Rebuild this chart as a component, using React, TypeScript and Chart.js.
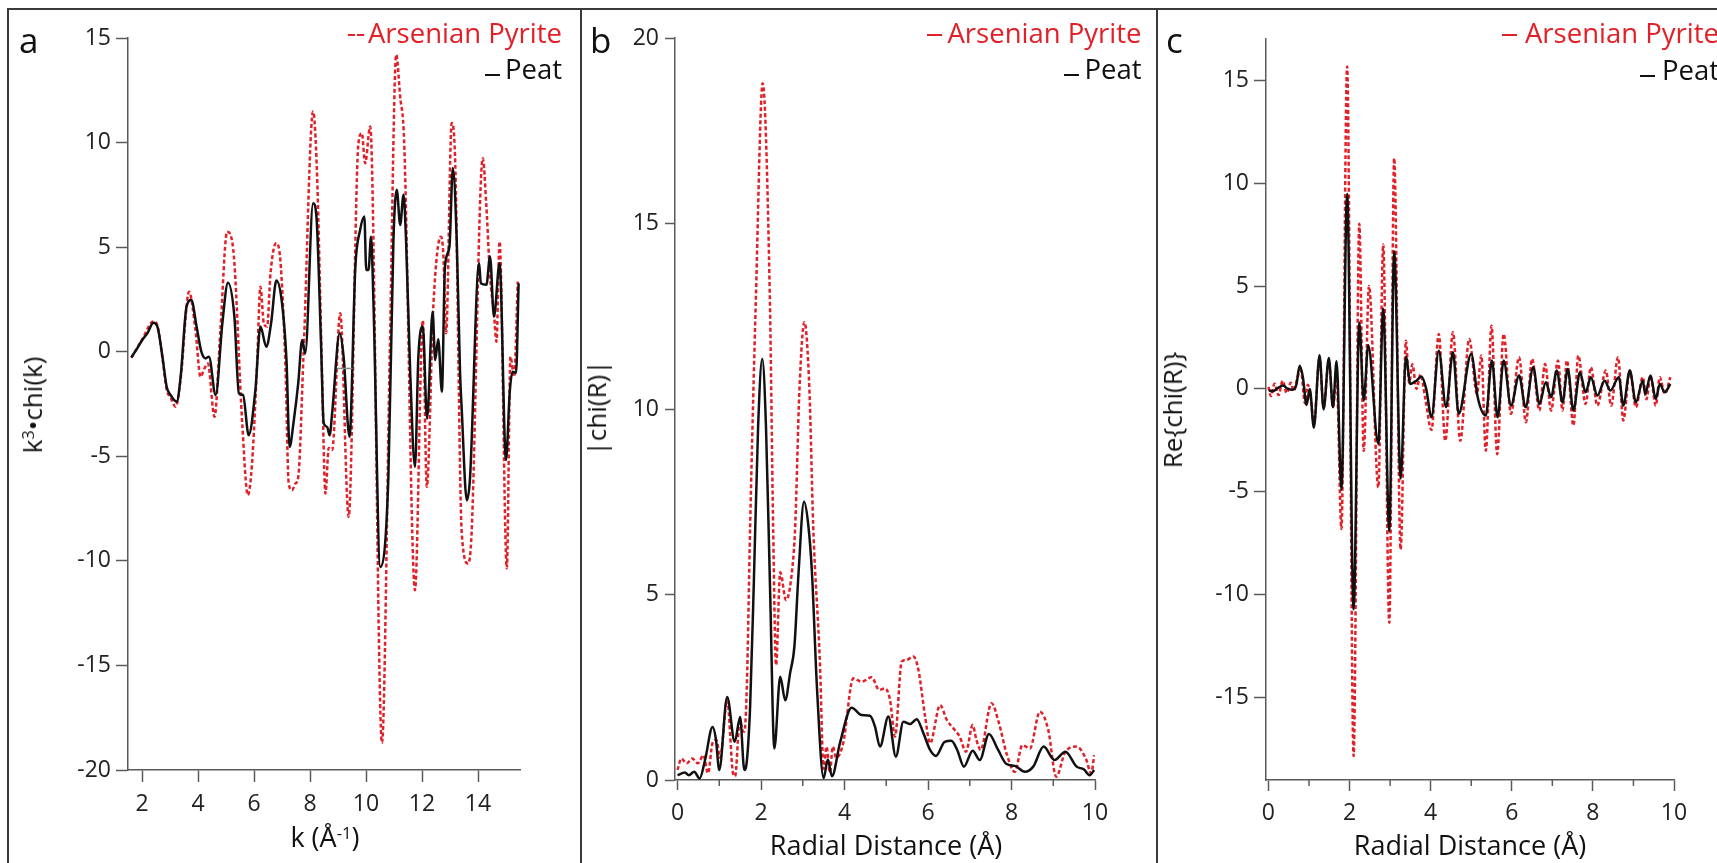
import React, { useEffect, useRef } from "react";
import { Chart, registerables } from "chart.js";

Chart.register(...registerables);

type Pt = [number, number];

// ---------- Panel a : k^3·chi(k) vs k ----------
const kTicks = [2, 4, 6, 8, 10, 12, 14];
const chiKTicks = [-20, -15, -10, -5, 0, 5, 10, 15];
const chiK_Peat: Pt[] = [
  [1.62, -0.27], [1.8, 0.1], [2.01, 0.56], [2.19, 0.88], [2.41, 1.39], [2.55, 1.2], [2.73, -0.24], [2.88, -1.67],
  [3.02, -2.07], [3.24, -2.39], [3.38, -1.2], [3.59, 2.15], [3.76, 2.47], [3.95, 1.2], [4.12, 0], [4.27, -0.32],
  [4.39, -0.24], [4.63, -2.07], [4.87, 1.36], [5.07, 3.3], [5.3, 1.67], [5.46, -1.99], [5.61, -2.07], [5.81, -3.99],
  [6.05, -1.83], [6.23, 1.2], [6.44, 0.24], [6.61, 1.36], [6.8, 3.4], [7.0, 2.32], [7.16, -0.4], [7.27, -4.55],
  [7.42, -3.3], [7.58, -1.5], [7.72, 0.56], [7.83, -0.08], [8.11, 7.1], [8.23, 6.46], [8.39, 0.56], [8.49, -3.43],
  [8.61, -3.59], [8.7, -4.0], [8.79, -2.95], [9.06, 0.88], [9.2, -0.24], [9.41, -4.07], [9.62, 4.07], [9.79, 5.82],
  [9.94, 6.46], [10.01, 3.91], [10.09, 3.91], [10.18, 5.5], [10.27, 2.15], [10.51, -10.29], [10.8, -5.98],
  [10.98, 5.34], [11.1, 7.74], [11.22, 6.06], [11.34, 7.5], [11.43, 5.34], [11.58, -1.04], [11.75, -5.5],
  [11.87, -0.24], [12.03, 1.2], [12.18, -3.2], [12.38, 1.91], [12.47, -0.4], [12.58, 0.6], [12.71, -1.91],
  [12.82, 4.07], [12.98, 5.02], [13.1, 8.78], [13.24, 5.34], [13.36, -1.04], [13.42, -2.79], [13.6, -7.1],
  [13.71, -6.14], [14.04, 4.23], [14.1, 3.27], [14.3, 3.2], [14.43, 4.55], [14.57, 1.68], [14.77, 4.23],
  [15.0, -5.18], [15.13, -2.0], [15.23, -0.96], [15.36, -1.0], [15.45, 3.27],
];
const chiK_ArsenianPyrite: Pt[] = [
  [1.62, -0.3], [2.01, 0.6], [2.41, 1.45], [2.55, 1.25], [2.73, -0.3], [2.88, -1.8], [3.02, -2.2], [3.2, -2.63],
  [3.38, -1.3], [3.68, 2.87], [3.91, 1.04], [4.09, -1.2], [4.23, -0.8], [4.35, -0.56], [4.59, -3.11], [4.8, 1.04],
  [5.04, 5.74], [5.26, 4.87], [5.58, -3.43], [5.78, -6.86], [5.93, -5.34], [6.11, -0.56], [6.23, 3.11],
  [6.35, 1.36], [6.47, 1.2], [6.59, 3.75], [6.79, 5.19], [6.94, 4.39], [7.12, -0.56], [7.24, -6.3], [7.36, -6.62],
  [7.48, -6.3], [7.58, -6.0], [7.77, -0.08], [8.11, 11.48], [8.25, 8.54], [8.43, -1.04], [8.55, -6.78],
  [8.67, -4.6], [8.79, -4.7], [9.08, 1.84], [9.38, -7.89], [9.73, 9.97], [9.85, 10.45], [9.97, 9.01],
  [10.15, 10.77], [10.57, -18.7], [10.85, 0], [11.08, 14.2], [11.22, 12.2], [11.36, 10.13], [11.75, -11.4],
  [12.03, 1.5], [12.17, -6.46], [12.41, 2.32], [12.67, 5.5], [12.76, 4.71], [12.86, 0.88], [13.06, 10.93],
  [13.18, 9.33], [13.42, -8.69], [13.65, -10.13], [13.77, -8.7], [14.17, 9.25], [14.3, 6.94], [14.43, 3.6],
  [14.57, 1.84], [14.66, 0.48], [14.77, 5.27], [15.03, -10.35], [15.16, -0.24], [15.29, -1.2], [15.42, 3.35],
];
const chiK_marker: Pt[] = [[8.96, -0.8], [9.52, -0.8]];

// ---------- Panel b : |chi(R)| ----------
const rTicks = [0, 2, 4, 6, 8, 10];
const rMinorTicks = [1, 3, 5, 7, 9];
const magTicks = [0, 5, 10, 15, 20];
const chiRmag_Peat: Pt[] = [
  [0, 0.13], [0.18, 0.2], [0.27, 0.13], [0.4, 0.22], [0.53, 0.04], [0.66, 0.54], [0.84, 1.43], [0.92, 1.1],
  [1.0, 0.27], [1.19, 2.24], [1.37, 1.03], [1.5, 1.7], [1.6, 0.27], [1.66, 0.5], [1.74, 2.0], [1.83, 5.4],
  [1.93, 9.5], [2.03, 11.35], [2.12, 9.5], [2.22, 5.0], [2.32, 0.85], [2.46, 2.78], [2.58, 2.15], [2.7, 2.9],
  [2.8, 3.6], [2.9, 5.6], [3.03, 7.5], [3.13, 6.9], [3.22, 5.6], [3.34, 2.5], [3.5, 0.05], [3.6, 0.55],
  [3.7, 0.1], [3.89, 0.99], [4.17, 1.95], [4.41, 1.75], [4.61, 1.73], [4.73, 1.44], [4.85, 0.9], [5.05, 1.71],
  [5.23, 0.63], [5.41, 1.57], [5.57, 1.51], [5.73, 1.64], [5.89, 1.26], [6.05, 0.81], [6.19, 0.65], [6.4, 1.03],
  [6.56, 1.06], [6.7, 0.81], [6.86, 0.36], [7.07, 0.79], [7.24, 0.54], [7.46, 1.24], [7.68, 0.81], [7.88, 0.43],
  [8.08, 0.38], [8.32, 0.22], [8.52, 0.36], [8.77, 0.9], [9.03, 0.54], [9.29, 0.76], [9.56, 0.36], [9.73, 0.29],
  [9.87, 0.13], [9.98, 0.27],
];
const chiRmag_ArsenianPyrite: Pt[] = [
  [0, 0.27], [0.09, 0.58], [0.22, 0.45], [0.35, 0.58], [0.49, 0.45], [0.62, 0.67], [0.73, 0.18], [0.84, 1.0],
  [0.93, 1.08], [1.02, 0.6], [1.19, 2.15], [1.33, 0.18], [1.38, 0.1], [1.49, 1.6], [1.56, 1.34], [1.6, 1.3],
  [1.66, 2.5], [1.74, 6.86], [1.88, 13.1], [2.04, 18.78], [2.21, 13.1], [2.29, 6.86], [2.36, 3.1], [2.46, 5.6],
  [2.6, 4.85], [2.74, 5.6], [2.82, 6.86], [2.92, 10.5], [3.04, 12.34], [3.16, 10.5], [3.25, 6.86], [3.41, 3.2],
  [3.5, 0.3], [3.57, 0.9], [3.65, 0.2], [3.72, 0.9], [3.8, 0.6], [3.97, 1.0], [4.21, 2.74], [4.41, 2.65],
  [4.65, 2.77], [4.83, 2.43], [4.97, 2.47], [5.09, 2.16], [5.21, 1.17], [5.37, 3.19], [5.49, 3.24], [5.65, 3.33],
  [5.77, 2.97], [5.93, 1.71], [6.05, 0.99], [6.29, 2.02], [6.45, 1.62], [6.64, 1.35], [6.76, 1.17], [6.91, 0.76],
  [7.07, 1.48], [7.16, 1.08], [7.26, 0.81], [7.52, 2.07], [7.7, 1.53], [7.88, 0.72], [8.08, 0.22], [8.26, 0.94],
  [8.44, 0.85], [8.68, 1.84], [8.88, 1.35], [9.07, 0.09], [9.29, 0.76], [9.56, 0.9], [9.78, 0.58], [9.91, 0.18],
  [9.98, 0.67],
];

// ---------- Panel c : Re{chi(R)} ----------
const reTicks = [-15, -10, -5, 0, 5, 10, 15];
const chiRre_Peat: Pt[] = [
  [0.01, -0.07], [0.11, -0.11], [0.23, 0.04], [0.36, 0.16], [0.48, 0], [0.6, -0.04], [0.69, 0.22], [0.77, 1.12],
  [0.85, 0.56], [0.94, -0.78], [1.02, 0], [1.12, -1.89], [1.26, 1.63], [1.36, -1.0], [1.49, 1.5], [1.59, -0.89],
  [1.68, 1.34], [1.8, -4.9], [1.94, 9.47], [2.1, -10.7], [2.24, 3.23], [2.35, -0.56], [2.46, 2.12], [2.71, -2.67],
  [2.83, 3.9], [2.98, -6.91], [3.1, 6.69], [3.26, -4.35], [3.39, 1.56], [3.5, 0.24], [3.65, 0.4], [3.77, 0.6],
  [3.89, 0.0], [4.02, -1.38], [4.2, 1.86], [4.38, -0.89], [4.55, 1.78], [4.69, -1.21], [5.0, 1.7], [5.16, -0.4],
  [5.36, -1.29], [5.51, 1.38], [5.65, -1.38], [5.8, 1.38], [5.98, -0.81], [6.18, 0.65], [6.34, -0.89],
  [6.53, 1.05], [6.68, -0.73], [6.84, 0.32], [6.97, -0.4], [7.11, 0.89], [7.25, -0.65], [7.38, 0.97],
  [7.52, -1.05], [7.68, 0.81], [7.82, -0.16], [7.95, 0.57], [8.11, -0.32], [8.29, 0.4], [8.43, -0.08],
  [8.64, 0.57], [8.75, -0.81], [8.91, 0.89], [9.06, -0.65], [9.23, 0.4], [9.29, -0.24], [9.42, 0.65],
  [9.55, -0.49], [9.65, 0.24], [9.77, -0.16], [9.91, 0.24],
];
const chiRre_ArsenianPyrite: Pt[] = [
  [0.0, 0.1], [0.06, -0.35], [0.15, 0.25], [0.25, -0.3], [0.35, 0.4], [0.45, -0.2], [0.55, 0.3], [0.63, -0.1],
  [0.72, 0.6], [0.8, 0.9], [0.9, -0.7], [0.97, 0.2], [1.04, -0.4], [1.12, -1.7], [1.26, 1.5], [1.36, -0.9],
  [1.49, 1.4], [1.59, -0.9], [1.68, 0.6], [1.8, -6.8], [1.94, 15.67], [2.1, -17.83], [2.24, 8.02], [2.35, -3.01],
  [2.48, 5.0], [2.71, -4.79], [2.83, 7.02], [2.98, -11.36], [3.1, 11.21], [3.26, -7.8], [3.39, 2.34], [3.47, 0.3],
  [3.55, 1.2], [3.65, 0.0], [3.75, 0.7], [3.87, -0.5], [4.02, -2.0], [4.2, 2.67], [4.36, -2.52], [4.55, 2.75],
  [4.73, -2.52], [4.95, 2.43], [5.14, -0.24], [5.25, 1.62], [5.36, -3.0], [5.5, 3.07], [5.64, -3.17],
  [5.8, 2.67], [5.98, -1.21], [6.18, 1.54], [6.35, -1.62], [6.5, 1.46], [6.68, -1.05], [6.82, 1.21],
  [6.97, -1.05], [7.14, 1.38], [7.25, -1.05], [7.36, 1.38], [7.52, -1.78], [7.64, 1.62], [7.82, -0.73],
  [7.95, 1.05], [8.11, -0.81], [8.32, 0.89], [8.45, -0.81], [8.62, 1.54], [8.75, -1.54], [8.91, 0.89],
  [9.06, -0.89], [9.23, 0.57], [9.32, -0.5], [9.42, 0.65], [9.55, -0.81], [9.65, 0.57], [9.77, -0.24],
  [9.91, 0.57],
];

// ---------- styling ----------
const RED = "rgb(226, 32, 40)";
const BLACK = "#111";
const AXIS = "#5a5a5a";
const LABEL = "#222";
const FONT = '"Open Sans", "DejaVu Sans", sans-serif';

type Series = { data: Pt[]; color: string; width: number; dash?: number[] };
type PanelSpec = {
  L: number; T: number; R: number; B: number;
  xMin: number; xMax: number; yMin: number; yMax: number;
  xTicks: number[]; yTicks: number[]; xMinor?: number[];
  xTickLen: number; yTickLen: number; xPad: number; yPad: number;
  series: Series[];
};

const PADL = 100, PADT = 24, PADR = 40, PADB = 75;

const minorTickPlugin = {
  id: "minorTicks",
  afterDraw(chart: any, _args: any, opts: any) {
    if (!opts || !opts.values) return;
    const xs = chart.scales.x;
    const ctx = chart.ctx;
    ctx.save();
    ctx.strokeStyle = AXIS;
    ctx.lineWidth = 1.5;
    for (const v of opts.values) {
      const px = xs.getPixelForValue(v);
      ctx.beginPath();
      ctx.moveTo(px, xs.top);
      ctx.lineTo(px, xs.top + opts.length);
      ctx.stroke();
    }
    ctx.restore();
  },
};

function PanelChart({ spec }: { spec: PanelSpec }) {
  const ref = useRef<HTMLCanvasElement>(null);
  const w = spec.R - spec.L + PADL + PADR;
  const h = spec.B - spec.T + PADT + PADB;
  useEffect(() => {
    if (!ref.current) return;
    const tickFont = { family: FONT, size: 23 };
    const chart = new Chart(ref.current, {
      type: "line",
      data: {
        datasets: spec.series.map((s) => ({
          data: s.data.map(([x, y]) => ({ x, y })),
          borderColor: s.color,
          borderWidth: s.width,
          borderDash: s.dash || [],
          borderCapStyle: "butt",
          borderJoinStyle: "round",
          pointRadius: 0,
          fill: false,
          cubicInterpolationMode: "monotone",
        })),
      },
      options: {
        responsive: false,
        animation: false,
        devicePixelRatio: 1,
        events: [],
        layout: { autoPadding: false, padding: { left: 0, top: PADT, right: PADR, bottom: 0 } },
        plugins: {
          legend: { display: false },
          tooltip: { enabled: false },
          minorTicks: spec.xMinor ? { values: spec.xMinor, length: 6 } : {},
        } as any,
        scales: {
          x: {
            type: "linear",
            min: spec.xMin,
            max: spec.xMax,
            afterBuildTicks: (s: any) => { s.ticks = spec.xTicks.map((v) => ({ value: v })); },
            afterFit: (s: any) => { s.height = PADB; s.paddingLeft = 0; s.paddingRight = 0; s.paddingTop = 0; s.paddingBottom = 0; },
            ticks: { autoSkip: false, maxRotation: 0, minRotation: 0, font: tickFont, color: LABEL, padding: spec.xPad },
            grid: { drawOnChartArea: false, drawTicks: true, tickLength: spec.xTickLen, tickColor: AXIS, tickWidth: 1.5 },
            border: { display: true, color: AXIS, width: 1.5 },
          },
          y: {
            type: "linear",
            min: spec.yMin,
            max: spec.yMax,
            afterBuildTicks: (s: any) => { s.ticks = spec.yTicks.map((v) => ({ value: v })); },
            afterFit: (s: any) => { s.width = PADL; s.paddingLeft = 0; s.paddingRight = 0; s.paddingTop = 0; s.paddingBottom = 0; },
            ticks: { autoSkip: false, font: tickFont, color: LABEL, padding: spec.yPad },
            grid: { drawOnChartArea: false, drawTicks: true, tickLength: spec.yTickLen, tickColor: AXIS, tickWidth: 1.5 },
            border: { display: true, color: AXIS, width: 1.5 },
          },
        },
      } as any,
      plugins: [minorTickPlugin],
    });
    return () => chart.destroy();
  }, []);
  return (
    <canvas
      ref={ref}
      width={w}
      height={h}
      style={{ position: "absolute", left: spec.L - PADL, top: spec.T - PADT, width: w, height: h }}
    />
  );
}

const panelA: PanelSpec = {
  L: 128, T: 38, R: 520, B: 770,
  xMin: 1.5, xMax: 15.5, yMin: -20, yMax: 15,
  xTicks: kTicks, yTicks: chiKTicks,
  xTickLen: 12, yTickLen: 12, xPad: 9, yPad: 5,
  series: [
    { data: chiK_marker, color: "#888", width: 1.5 },
    { data: chiK_Peat, color: BLACK, width: 2.5 },
    { data: chiK_ArsenianPyrite, color: RED, width: 2.5, dash: [4, 2.5] },
  ],
};
const panelB: PanelSpec = {
  L: 675, T: 38, R: 1095, B: 780,
  xMin: -0.06, xMax: 10, yMin: 0, yMax: 20,
  xTicks: rTicks, yTicks: magTicks, xMinor: rMinorTicks,
  xTickLen: 10, yTickLen: 10, xPad: 10, yPad: 6,
  series: [
    { data: chiRmag_Peat, color: BLACK, width: 2.5 },
    { data: chiRmag_ArsenianPyrite, color: RED, width: 2.5, dash: [4, 2.5] },
  ],
};
const panelC: PanelSpec = {
  L: 1266, T: 39, R: 1674, B: 780,
  xMin: -0.06, xMax: 10, yMin: -19, yMax: 17,
  xTicks: rTicks, yTicks: reTicks, xMinor: rMinorTicks,
  xTickLen: 11, yTickLen: 12, xPad: 9, yPad: 5,
  series: [
    { data: chiRre_Peat, color: BLACK, width: 2.5 },
    { data: chiRre_ArsenianPyrite, color: RED, width: 2.5, dash: [4, 2.5] },
  ],
};

function Txt(p: { x: number; base: number; size: number; align: "left" | "right" | "center"; color?: string; children: any }) {
  const tx = p.align === "left" ? "0" : p.align === "right" ? "-100%" : "-50%";
  return (
    <div
      style={{
        position: "absolute",
        left: p.x,
        top: p.base - 0.888 * p.size,
        fontSize: p.size,
        lineHeight: `${p.size}px`,
        whiteSpace: "nowrap",
        color: p.color || "#111",
        transform: `translateX(${tx})`,
      }}
    >
      {p.children}
    </div>
  );
}

function VTxt(p: { cx: number; cy: number; size: number; children: any }) {
  return (
    <div
      style={{
        position: "absolute",
        left: p.cx,
        top: p.cy,
        fontSize: p.size,
        lineHeight: `${p.size}px`,
        whiteSpace: "nowrap",
        color: "#111",
        transform: "translate(-50%, -50%) rotate(-90deg)",
      }}
    >
      {p.children}
    </div>
  );
}

function Dash(p: { x: number; y: number; w: number; color: string; double?: boolean }) {
  const bg = p.double
    ? `repeating-linear-gradient(to right, ${p.color} 0 7px, transparent 7px 9.5px)`
    : p.color;
  return (
    <div
      style={{ position: "absolute", left: Math.round(p.x), top: Math.round(p.y - 1), width: Math.round(p.w), height: 2, background: bg }}
    />
  );
}

function Legend(p: { right: number; redDash: [number, number]; blackDash: [number, number]; double?: boolean; redBase: number; blackBase: number }) {
  return (
    <>
      <Dash x={p.redDash[0]} y={p.redBase - 8.3} w={p.redDash[1] - p.redDash[0]} color={RED} double={p.double} />
      <Txt x={p.right} base={p.redBase} size={27.5} align="right" color={RED}>Arsenian Pyrite</Txt>
      <Dash x={p.blackDash[0]} y={p.blackBase - 4.5} w={p.blackDash[1] - p.blackDash[0]} color={BLACK} />
      <Txt x={p.right} base={p.blackBase} size={27.5} align="right">Peat</Txt>
    </>
  );
}

const sup = (s: string) => (
  <span style={{ position: "relative", top: "-0.5em", fontSize: "0.62em" }}>{s}</span>
);

export default function App() {
  const line = "#3a3a3a";
  return (
    <div
      style={{
        position: "absolute",
        left: 0,
        top: 0,
        width: 1717,
        height: 863,
        overflow: "hidden",
        background: "#fff",
        fontFamily: FONT,
      }}
    >
      {/* frame */}
      <div style={{ position: "absolute", left: 6.5, top: 8, width: 1720, height: 2, background: line }} />
      <div style={{ position: "absolute", left: 6.5, top: 8, width: 2, height: 870, background: line }} />
      <div style={{ position: "absolute", left: 580, top: 8, width: 2, height: 870, background: line }} />
      <div style={{ position: "absolute", left: 1155.5, top: 8, width: 2, height: 870, background: line }} />

      <PanelChart spec={panelA} />
      <PanelChart spec={panelB} />
      <PanelChart spec={panelC} />

      {/* panel letters */}
      <Txt x={19} base={53} size={35} align="left">a</Txt>
      <Txt x={590} base={53} size={35} align="left">b</Txt>
      <Txt x={1166} base={53} size={35} align="left">c</Txt>

      {/* legends */}
      <Legend right={562} redDash={[348, 364.5]} blackDash={[485, 499.5]} double redBase={43.3} blackBase={79.3} />
      <Legend right={1141.5} redDash={[927, 942]} blackDash={[1064, 1079]} redBase={43.3} blackBase={79.3} />
      <Legend right={1719} redDash={[1502, 1517]} blackDash={[1640, 1655]} redBase={43.3} blackBase={80} />

      {/* axis titles */}
      <Txt x={325} base={847} size={27} align="center">
        k (Å{sup("-1")})
      </Txt>
      <Txt x={886} base={855} size={27} align="center">Radial Distance (Å)</Txt>
      <Txt x={1470} base={855} size={27} align="center">Radial Distance (Å)</Txt>

      <VTxt cx={34} cy={405} size={26}>
        k{sup("3")}•chi(k)
      </VTxt>
      <VTxt cx={596} cy={408} size={26}>|chi(R)|</VTxt>
      <VTxt cx={1172} cy={410} size={26}>Re{"{"}chi(R){"}"}</VTxt>
    </div>
  );
}
